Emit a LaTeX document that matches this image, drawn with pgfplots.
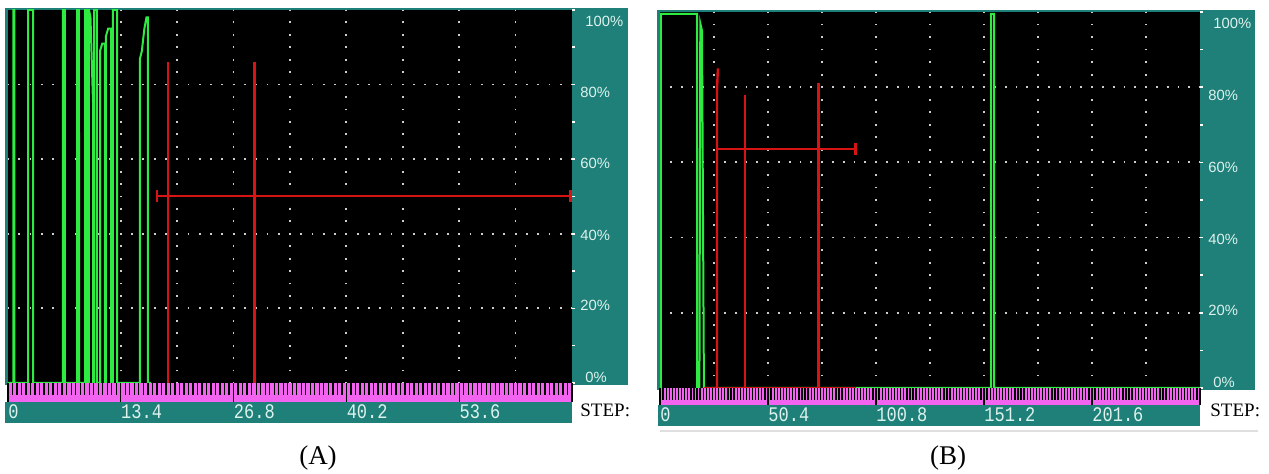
\documentclass[border=0pt]{standalone}
\usepackage{fontspec}
\setmainfont{Liberation Serif}
\newfontfamily\monof{Liberation Mono}
\newfontfamily\sansf{Liberation Sans}
\usepackage{graphicx}
\usepackage{pgfplots}
\pgfplotsset{compat=1.18}
\definecolor{teal1}{RGB}{30,128,120}
\definecolor{rulermag}{RGB}{242,100,240}
\definecolor{sig}{RGB}{45,235,65}
\definecolor{gate}{RGB}{215,20,20}
\definecolor{gridc}{RGB}{205,205,205}
\definecolor{labc}{RGB}{222,242,238}
\newcommand\lab[2]{\smash{\raisebox{#1}{#2}}}
\newcommand\tl[1]{\scalebox{1}[1.22]{#1}}
\pgfplotsset{
  screen/.style={scale only axis, anchor=north west, axis line style={draw=none},
    axis background/.style={fill=black}, ymin=0, ymax=100,
    xmajorgrids, ymajorgrids, x tick style={draw=none}, xticklabels={},
    ytick={20,40,60,80}, extra y ticks={0,100}, extra y tick style={grid=none},
    minor ytick={10,30,50,70,90},
    ytick pos=right, yticklabel pos=right, tick align=outside,
    y tick style={white, line width=0.8pt}, major tick length=1.5pt, minor tick length=1.5pt,
    yticklabels={\lab{-1.3pt}{20\%},\lab{-3.3pt}{40\%},\lab{-4.9pt}{60\%},\lab{-6.5pt}{80\%}},
    extra y tick labels={\lab{0.4pt}{0\%},\lab{-8.2pt}{100\%}},
    yticklabel style={font=\sansf\fontsize{7.4}{7.4}\selectfont, text=labc, inner sep=0pt, anchor=west, xshift=2.5pt},
    extra y tick style={yticklabel style={font=\sansf\fontsize{7.4}{7.4}\selectfont, text=labc, inner sep=0pt, anchor=west, xshift=2.5pt}},
    clip=true},
  ruler/.style={scale only axis, anchor=north west, axis line style={draw=none},
    axis background/.style={fill=rulermag}, ymin=0, ymax=1, ytick=\empty,
    xtick pos=upper, xticklabel pos=lower, tick align=inside,
    tick style={black, line width=0.65pt}, minor tick length=6pt,
    xticklabel style={font=\monof\fontsize{8.5}{8.5}\selectfont, text=labc, anchor=north west, inner sep=0pt, yshift=-1.3pt}}
}
\begin{document}
\begin{tikzpicture}
\path[use as bounding box] (0,0) rectangle (634.5pt,237pt);
% panel frames
\fill[teal1] (2.5pt,44.5pt) rectangle (314pt,233pt);
\fill[teal1] (2.5pt,25.5pt) rectangle (286pt,36pt);
\fill[teal1] (328.5pt,42pt) rectangle (627.5pt,232pt);
\fill[teal1] (329pt,24pt) rectangle (600pt,34.5pt);
\draw[gray!25, line width=0.6pt] (330pt,21.5pt) -- (629pt,21.5pt);

% ---------- Panel A ----------
\begin{axis}[screen, at={(4pt,232pt)}, width=282pt, height=186.5pt, xmin=0, xmax=67,
  xtick={6.7,13.4,20.1,26.8,33.5,40.2,46.9,53.6,60.3},
  x grid style={gridc, line width=0.9pt, dash pattern=on 0.9pt off 5.317pt, dash phase=0.45pt},
  y grid style={gridc, line width=0.9pt, dash pattern=on 0.9pt off 4.74pt, dash phase=0.45pt}]
\addplot[sig, line width=1pt] coordinates {
(0,0)(0.65,0)(0.65,100)(0.77,100)(0.77,0)
(2.38,0)(2.38,100)(2.97,100)(2.97,0)
(6.53,0)(6.53,100)(6.77,100)(6.77,0)
(8.20,0)(8.20,100)(8.43,100)(8.43,87)(8.45,0)
(9.15,0)(9.15,100)(9.38,100)(9.38,0)
(9.62,0)(9.62,100)(9.8,98)(10.10,75)(10.10,0)
(10.22,0)(10.22,100)(10.57,100)(10.57,0)
(10.93,0)(10.93,89)(11.2,91)(11.52,91)(11.52,0)
(11.64,0)(11.64,93)(11.9,95)(12.24,95)(12.24,0)
(12.47,0)(12.47,100)(12.95,100)(12.95,0)
(15.68,0)(15.68,87)(15.9,89)(16.2,95)(16.45,98)(16.63,98)(16.63,0)(17,0)
};
\addplot[gate, line width=1.2pt] coordinates {(19.0,0)(19.0,86)};
\addplot[gate, line width=1.2pt] coordinates {(29.3,0)(29.3,86)};
\addplot[gate, line width=1.2pt] coordinates {(17.7,50.1)(66.8,50.1)};
\addplot[gate, line width=1.2pt] coordinates {(17.7,48.4)(17.7,51.8)};
\addplot[gate, line width=1.2pt] coordinates {(66.8,48.4)(66.8,51.8)};
\end{axis}
\begin{axis}[ruler, at={(4pt,45.5pt)}, width=282pt, height=9.5pt, xmin=0, xmax=67,
  xtick={0,13.4,26.8,40.2,53.6,67},
  xticklabels={\tl{0},\tl{13.4},\tl{26.8},\tl{40.2},\tl{53.6},{}},
  minor x tick num=24, major tick length=9.5pt]
\end{axis}
\node[anchor=west, inner sep=0pt, font=\fontsize{9.5}{9.5}\selectfont] at (290pt,32pt) {STEP:};
\node[font=\fontsize{13.5}{13.5}\selectfont] at (159pt,8pt) {(A)};

% ---------- Panel B ----------
\begin{axis}[screen, at={(330pt,231pt)}, width=270pt, height=188pt, xmin=0, xmax=252,
  xtick={25.2,50.4,75.6,100.8,126,151.2,176.4,201.6,226.8},
  x grid style={gridc, line width=0.9pt, dash pattern=on 0.9pt off 5.367pt, dash phase=0.45pt},
  y grid style={gridc, line width=0.9pt, dash pattern=on 0.9pt off 4.5pt, dash phase=0.45pt}]
\addplot[sig, line width=1pt] coordinates {
(0.4,0)(0.4,99.5)(17.3,99.5)(17.3,0)(18.4,0)(18.8,97)(19.6,95)(20.5,0)
(154.5,0)(154.5,99.5)(155.9,99.5)(155.9,0)(252,0)
};
\addplot[gate, line width=1.2pt] coordinates {(20.5,0)(91.3,0)};
\addplot[gate, line width=1.2pt] coordinates {(26.6,0)(26.6,79)(27.0,85)};
\addplot[gate, line width=1.2pt] coordinates {(39.7,0)(39.7,78)};
\addplot[gate, line width=1.2pt] coordinates {(73.9,0)(73.9,81)};
\addplot[gate, line width=1.2pt] coordinates {(26.6,63.6)(91.3,63.6)};
\addplot[gate, line width=1.2pt] coordinates {(91.3,62)(91.3,65.2)};
\end{axis}
\begin{axis}[ruler, at={(330pt,43pt)}, width=270pt, height=8.5pt, xmin=0, xmax=252,
  xtick={0,50.4,100.8,151.2,201.6,252},
  xticklabels={\tl{0},\tl{50.4},\tl{100.8},\tl{151.2},\tl{201.6},{}},
  minor x tick num=34, major tick length=8.5pt]
\end{axis}
\node[anchor=west, inner sep=0pt, font=\fontsize{9.5}{9.5}\selectfont] at (605pt,32pt) {STEP:};
\node[font=\fontsize{13.5}{13.5}\selectfont] at (474pt,8pt) {(B)};
\end{tikzpicture}
\end{document}
